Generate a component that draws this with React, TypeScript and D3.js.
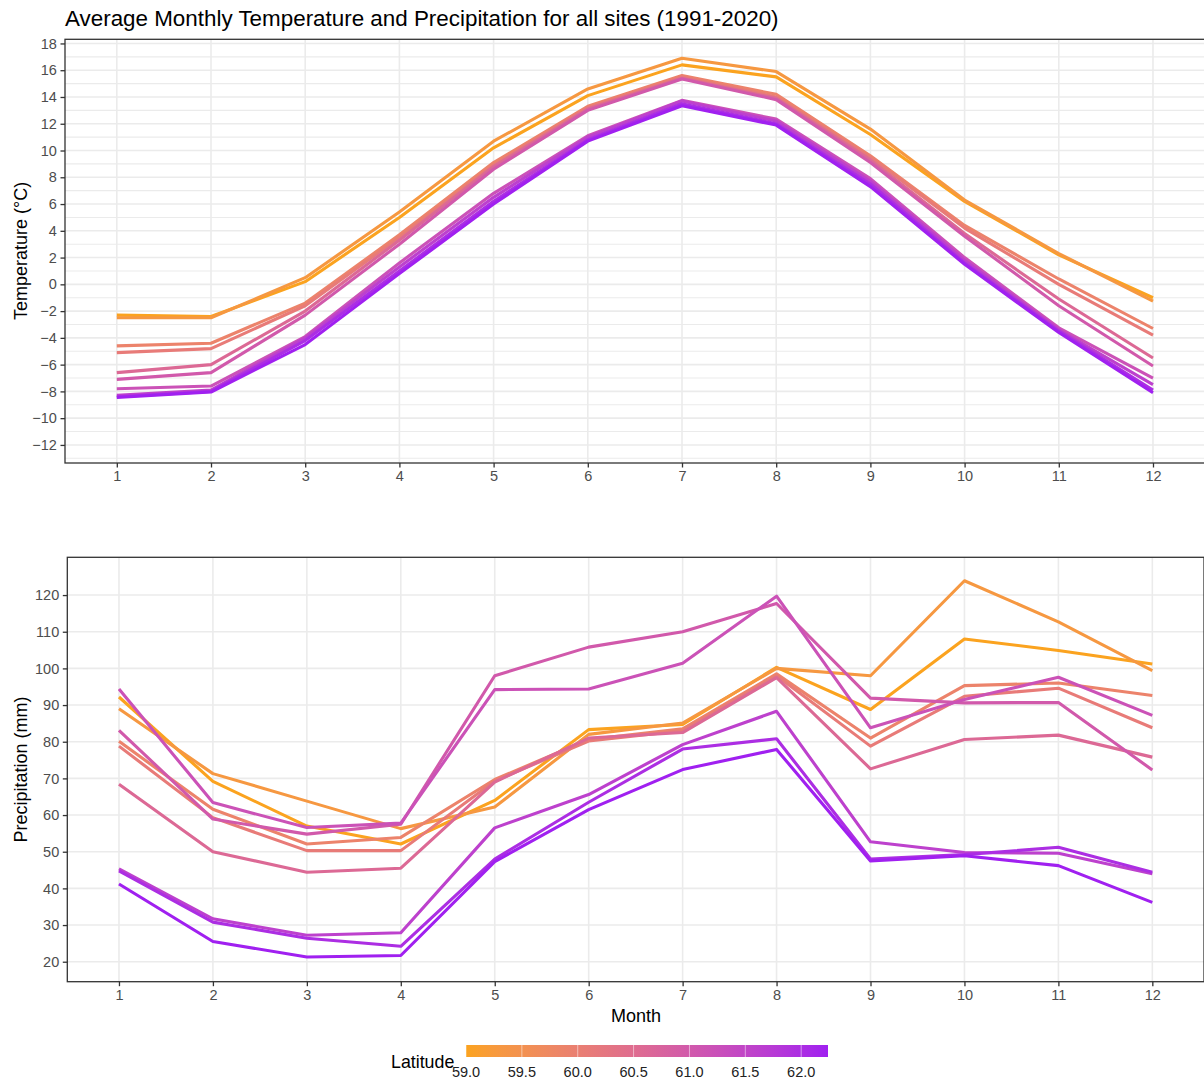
import React, { useEffect, useRef } from 'react';
import * as d3 from 'd3';

const months = [1, 2, 3, 4, 5, 6, 7, 8, 9, 10, 11, 12];

// one entry per site, ordered by latitude
const latitudes = [59.0, 59.3, 59.9, 60.1, 60.6, 61.0, 61.2, 61.6, 62.0, 62.24];

const temperature = [
  [-2.3, -2.4, 0.2, 5.0, 10.2, 14.1, 16.4, 15.5, 11.2, 6.2, 2.2, -1.0],
  [-2.5, -2.5, 0.5, 5.4, 10.7, 14.6, 16.9, 15.9, 11.6, 6.3, 2.3, -1.25],
  [-4.6, -4.4, -1.4, 3.7, 9.1, 13.3, 15.6, 14.2, 9.6, 4.4, 0.4, -3.3],
  [-5.1, -4.8, -1.6, 3.5, 8.9, 13.2, 15.5, 14.0, 9.5, 4.2, 0.0, -3.8],
  [-6.6, -6.0, -2.0, 3.3, 8.8, 13.1, 15.4, 13.9, 9.3, 3.8, -1.1, -5.5],
  [-7.1, -6.6, -2.3, 3.0, 8.6, 13.0, 15.35, 13.8, 9.1, 3.6, -1.6, -6.1],
  [-7.8, -7.6, -3.9, 1.6, 6.8, 11.1, 13.75, 12.35, 7.9, 2.0, -3.25, -7.0],
  [-8.3, -7.9, -4.0, 1.3, 6.5, 11.0, 13.7, 12.2, 7.7, 1.8, -3.4, -7.5],
  [-8.4, -8.0, -4.2, 1.0, 6.2, 10.8, 13.5, 12.0, 7.5, 1.6, -3.5, -7.9],
  [-8.45, -8.05, -4.5, 0.8, 6.0, 10.7, 13.35, 11.9, 7.3, 1.5, -3.6, -8.1],
];

const precipitation = [
  [92.2, 69.2, 57.0, 52.1, 64.0, 83.3, 84.7, 100.3, 88.8, 108.0, 104.9, 101.2],
  [89.0, 71.3, 63.8, 56.3, 62.2, 82.0, 85.1, 100.0, 98.0, 123.9, 112.7, 99.4],
  [80.1, 61.6, 52.1, 53.9, 69.7, 80.6, 83.5, 98.5, 81.0, 95.3, 96.0, 92.6],
  [78.8, 59.3, 50.3, 50.3, 69.3, 80.2, 83.0, 98.0, 78.8, 92.4, 94.6, 83.8],
  [68.4, 50.0, 44.4, 45.5, 69.0, 81.0, 82.5, 97.5, 72.6, 80.6, 81.8, 75.8],
  [83.1, 58.9, 54.8, 57.5, 98.0, 105.8, 110.0, 117.7, 91.9, 90.6, 90.7, 72.3],
  [94.4, 63.4, 56.6, 57.8, 94.2, 94.4, 101.4, 119.7, 83.8, 91.5, 97.6, 87.2],
  [45.3, 31.7, 27.2, 27.9, 56.5, 65.6, 79.2, 88.3, 52.7, 49.8, 49.6, 44.0],
  [44.8, 30.8, 26.4, 24.2, 48.0, 63.5, 78.0, 80.8, 48.0, 49.2, 51.2, 44.4],
  [41.2, 25.5, 21.3, 21.7, 47.3, 61.5, 72.4, 77.9, 47.5, 48.9, 46.2, 36.2],
];

const tempTicks = [-12, -10, -8, -6, -4, -2, 0, 2, 4, 6, 8, 10, 12, 14, 16, 18];
const tempMinorTicks = [-13, -11, -9, -7, -5, -3, -1, 1, 3, 5, 7, 9, 11, 13, 15, 17];
const precipTicks = [20, 30, 40, 50, 60, 70, 80, 90, 100, 110, 120];
const latitudeTicks = [59.0, 59.5, 60.0, 60.5, 61.0, 61.5, 62.0];

const FONT = '"Liberation Sans", Arial, Helvetica, sans-serif';

export default function App() {
  const svgRef = useRef(null);

  useEffect(() => {
    const width = 1204;
    const height = 1083;

    d3.select(svgRef.current).selectAll('*').remove();

    const svg = d3.select(svgRef.current)
      .attr('width', width)
      .attr('height', height)
      .style('font-family', FONT);

    const color = d3.scaleLinear()
      .domain([59.0, 62.24])
      .range(['#FBA31F', '#A020F0'])
      .interpolate(d3.interpolateLab);

    // Title
    svg.append('text')
      .attr('x', 65)
      .attr('y', 26)
      .attr('fill', '#000')
      .style('font-size', '22.4px')
      .text('Average Monthly Temperature and Precipitation for all sites (1991-2020)');

    function drawPanel(opts) {
      const { left, right, top, bottom, yDomain, yTicks, yMinor, series, id } = opts;

      const x = d3.scaleLinear().domain([0.45, 12.55]).range([left, right]);
      const y = d3.scaleLinear().domain(yDomain).range([bottom, top]);

      const g = svg.append('g');

      // panel background + grid
      g.append('rect')
        .attr('x', left).attr('y', top)
        .attr('width', right - left).attr('height', bottom - top)
        .attr('fill', '#fff');

      g.selectAll('.minor')
        .data(yMinor)
        .enter()
        .append('line')
        .attr('x1', left).attr('x2', right)
        .attr('y1', d => y(d)).attr('y2', d => y(d))
        .attr('stroke', '#EBEBEB')
        .attr('stroke-width', 1.1);

      g.selectAll('.hmajor')
        .data(yTicks)
        .enter()
        .append('line')
        .attr('x1', left).attr('x2', right)
        .attr('y1', d => y(d)).attr('y2', d => y(d))
        .attr('stroke', '#EBEBEB')
        .attr('stroke-width', 1.6);

      g.selectAll('.vmajor')
        .data(months)
        .enter()
        .append('line')
        .attr('x1', d => x(d)).attr('x2', d => x(d))
        .attr('y1', top).attr('y2', bottom)
        .attr('stroke', '#EBEBEB')
        .attr('stroke-width', 1.6);

      // clip for lines
      svg.append('clipPath')
        .attr('id', id)
        .append('rect')
        .attr('x', left).attr('y', top)
        .attr('width', right - left).attr('height', bottom - top);

      const line = d3.line()
        .x((d, i) => x(months[i]))
        .y(d => y(d));

      g.append('g')
        .attr('clip-path', `url(#${id})`)
        .selectAll('path')
        .data(series)
        .enter()
        .append('path')
        .attr('d', d => line(d))
        .attr('fill', 'none')
        .attr('stroke', (d, i) => color(latitudes[i]))
        .attr('stroke-width', 3.1)
        .attr('stroke-linejoin', 'round');

      g.append('rect')
        .attr('x', left).attr('y', top)
        .attr('width', right - left).attr('height', bottom - top)
        .attr('fill', 'none')
        .attr('stroke', '#333333')
        .attr('stroke-width', 1.3);

      // axes
      const yAxis = g.append('g')
        .attr('transform', `translate(${left},0)`)
        .call(d3.axisLeft(y).tickValues(yTicks).tickSize(4.5).tickPadding(3.6).tickSizeOuter(0));

      const xAxis = g.append('g')
        .attr('transform', `translate(0,${bottom})`)
        .call(d3.axisBottom(x).tickValues(months).tickSize(4.5).tickPadding(3.6).tickSizeOuter(0));

      [xAxis, yAxis].forEach(ax => {
        ax.select('.domain').remove();
        ax.selectAll('.tick line').attr('stroke', '#333333').attr('stroke-width', 1.3);
        ax.selectAll('.tick text')
          .attr('fill', '#4D4D4D')
          .style('font-size', '14.5px')
          .style('font-family', FONT);
      });
    }

    drawPanel({
      id: 'clip-temp',
      left: 65, right: 1204.8, top: 39.3, bottom: 463,
      yDomain: [-13.35, 18.31],
      yTicks: tempTicks,
      yMinor: tempMinorTicks,
      series: temperature,
    });

    drawPanel({
      id: 'clip-precip',
      left: 67.3, right: 1204, top: 557.3, bottom: 981.7,
      yDomain: [14.55, 130.3],
      yTicks: precipTicks,
      yMinor: [],
      series: precipitation,
    });

    // Axis titles
    svg.append('text')
      .attr('transform', 'translate(27,251) rotate(-90)')
      .attr('text-anchor', 'middle')
      .style('font-size', '18px')
      .text('Temperature (°C)');

    svg.append('text')
      .attr('transform', 'translate(27,769.5) rotate(-90)')
      .attr('text-anchor', 'middle')
      .style('font-size', '18px')
      .text('Precipitation (mm)');

    svg.append('text')
      .attr('x', 636)
      .attr('y', 1022)
      .attr('text-anchor', 'middle')
      .style('font-size', '18px')
      .text('Month');

    // Legend colourbar
    const barX = d3.scaleLinear().domain([59.0, 62.24]).range([466, 828]);
    const barTop = 1045;
    const barH = 12;

    const grad = svg.append('defs')
      .append('linearGradient')
      .attr('id', 'lat-grad')
      .attr('x1', '0%').attr('x2', '100%')
      .attr('y1', '0%').attr('y2', '0%');

    d3.range(0, 1.0001, 0.05).forEach(t => {
      grad.append('stop')
        .attr('offset', `${t * 100}%`)
        .attr('stop-color', color(59.0 + t * (62.24 - 59.0)));
    });

    svg.append('rect')
      .attr('x', barX(59.0))
      .attr('y', barTop)
      .attr('width', barX(62.24) - barX(59.0))
      .attr('height', barH)
      .attr('fill', 'url(#lat-grad)');

    svg.selectAll('.bar-tick')
      .data(latitudeTicks)
      .enter()
      .append('line')
      .attr('x1', d => barX(d)).attr('x2', d => barX(d))
      .attr('y1', barTop).attr('y2', barTop + barH)
      .attr('stroke', '#fff')
      .attr('stroke-opacity', 0.5)
      .attr('stroke-width', 1);

    svg.selectAll('.bar-label')
      .data(latitudeTicks)
      .enter()
      .append('text')
      .attr('x', d => barX(d))
      .attr('y', 1077)
      .attr('text-anchor', 'middle')
      .attr('fill', '#222')
      .style('font-size', '14.5px')
      .text(d => d.toFixed(1));

    svg.append('text')
      .attr('x', 391)
      .attr('y', 1068)
      .style('font-size', '17.8px')
      .text('Latitude');
  }, []);

  return (
    <svg ref={svgRef} style={{ position: 'absolute', left: 0, top: 0, background: '#fff' }}></svg>
  );
}
